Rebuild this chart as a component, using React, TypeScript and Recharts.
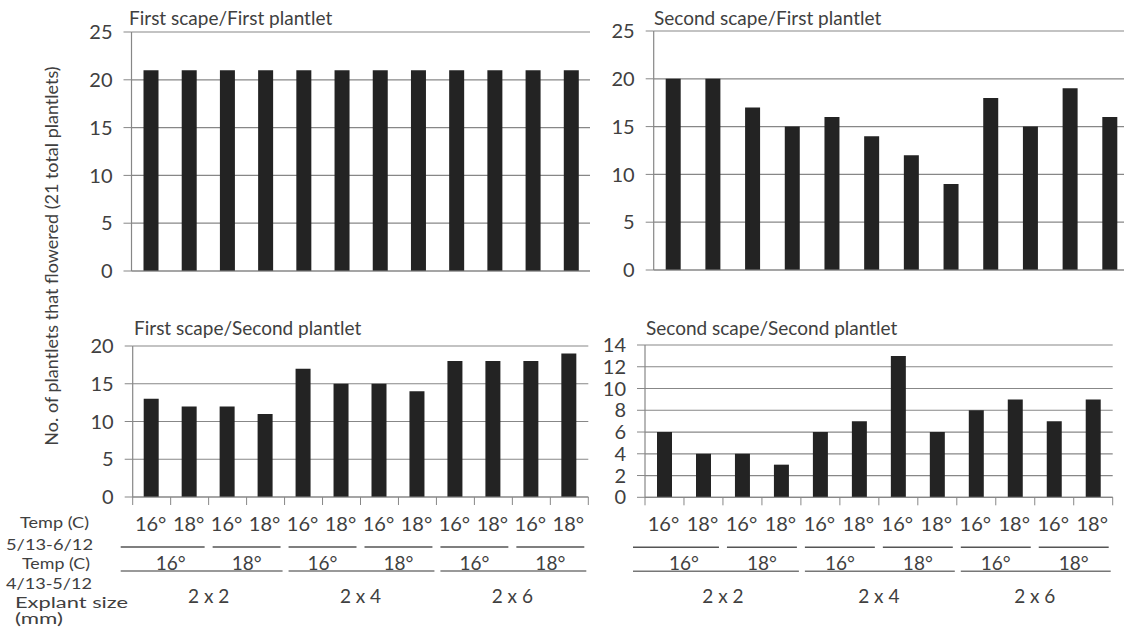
import React from 'react';
import { BarChart, Bar, XAxis, YAxis, CartesianGrid } from 'recharts';

// ---- data ----
const lateTemps = ['16°', '18°', '16°', '18°', '16°', '18°', '16°', '18°', '16°', '18°', '16°', '18°'];
const earlyTemps = ['16°', '18°', '16°', '18°', '16°', '18°'];
const explantSizes = ['2 x 2', '2 x 4', '2 x 6'];

const firstScapeFirstPlantlet = [21, 21, 21, 21, 21, 21, 21, 21, 21, 21, 21, 21];
const secondScapeFirstPlantlet = [20, 20, 17, 15, 16, 14, 12, 9, 18, 15, 19, 16];
const firstScapeSecondPlantlet = [13, 12, 12, 11, 17, 15, 15, 14, 18, 18, 18, 19];
const secondScapeSecondPlantlet = [6, 4, 4, 3, 6, 7, 13, 6, 8, 9, 7, 9];

const ticks25 = [0, 5, 10, 15, 20, 25];
const ticks20 = [0, 5, 10, 15, 20];
const ticks14 = [0, 2, 4, 6, 8, 10, 12, 14];

const titles = [
  'First scape/First plantlet',
  'Second scape/First plantlet',
  'First scape/Second plantlet',
  'Second scape/Second plantlet',
];
const yLabel = 'No. of plantlets that flowered (21 total plantlets)';
const rowLabels = ['Temp (C)', '5/13-6/12', 'Temp (C)', '4/13-5/12', 'Explant size', '(mm)'];

// ---- styles ----
const FONT = 'Lato, "Open Sans", sans-serif';
const TEXT = '#404040';
const GRID = '#878787';
const BAR = '#232323';

const rows = (vals: number[]) => vals.map((v, i) => ({ key: String(i), v }));

function MultiLevelTick(props: any) {
  const { x, y, payload, index, band } = props;
  const half = payload && payload.offset ? payload.offset : band / 2;
  const i = index as number;
  const n = lateTemps.length;
  const els: any[] = [];
  els.push(<line key="t" x1={x - half} x2={x - half} y1={y} y2={y + 8} stroke={GRID} />);
  if (i === n - 1) els.push(<line key="t2" x1={x + half} x2={x + half} y1={y} y2={y + 8} stroke={GRID} />);
  els.push(
    <text key="l" x={x - 1} y={y + 26} textAnchor="middle" dominantBaseline="central" fontSize={20} fill={TEXT} fontFamily={FONT}>
      {lateTemps[i]}
    </text>
  );
  if (i % 2 === 0) {
    const startX = i === 0 ? x - half - 12 : x - half + 4;
    els.push(<line key="u" x1={startX} x2={x + 3 * half - 4} y1={y + 50} y2={y + 50} stroke="#555" strokeWidth={1.5} />);
    els.push(
      <text key="g" x={x + half} y={y + 65} textAnchor="middle" dominantBaseline="central" fontSize={19} fill={TEXT} fontFamily={FONT}>
        {earlyTemps[i / 2]}
      </text>
    );
  }
  if (i % 4 === 0) {
    const startX = i === 0 ? x - half - 12 : x - half + 4;
    els.push(<line key="w" x1={startX} x2={x + 7 * half - 2} y1={y + 74} y2={y + 74} stroke="#777" strokeWidth={1.5} />);
    els.push(
      <text key="e" x={x + 3 * half} y={y + 98} textAnchor="middle" dominantBaseline="central" fontSize={19} fill={TEXT} fontFamily={FONT}>
        {explantSizes[i / 4]}
      </text>
    );
  }
  return <g>{els}</g>;
}

type PanelProps = {
  left: number; top: number; width: number; height: number;
  plotLeft: number; plotRight: number; plotTop: number; plotBottom: number;
  values: number[]; ticks: number[]; bottomLabels: boolean;
};

function Panel(p: PanelProps) {
  const yAxisWidth = p.plotLeft;
  const xAxisHeight = p.height - p.plotBottom;
  const band = (p.plotRight - p.plotLeft) / p.values.length;
  const domainMax = p.ticks[p.ticks.length - 1];
  return (
    <div style={{ position: 'absolute', left: p.left, top: p.top }}>
      <BarChart
        width={p.width}
        height={p.height}
        data={rows(p.values)}
        margin={{ top: p.plotTop, right: p.width - p.plotRight, bottom: 0, left: 0 }}
        barCategoryGap={0}
      >
        <CartesianGrid horizontal vertical={false} stroke={GRID} strokeWidth={1.2} />
        <XAxis
          dataKey="key"
          height={xAxisHeight}
          interval={0}
          axisLine={{ stroke: GRID, strokeWidth: 1.2 }}
          tickLine={false}
          tickSize={0}
          tickMargin={0}
          tick={p.bottomLabels ? <MultiLevelTick band={band} /> : false}
        />
        <YAxis
          width={yAxisWidth}
          domain={[0, domainMax]}
          ticks={p.ticks}
          interval={0}
          axisLine={{ stroke: GRID, strokeWidth: 1.2 }}
          tickLine={{ stroke: GRID }}
          tickSize={8}
          tickMargin={11}
          tick={{ fontSize: 20, fill: TEXT, fontFamily: FONT }}
        />
        <Bar dataKey="v" fill={BAR} barSize={15} isAnimationActive={false} />
      </BarChart>
    </div>
  );
}

const rowLabelLayout = [
  { x: 20, y: 522, w: 69 },
  { x: 6, y: 544, w: 87 },
  { x: 22, y: 563, w: 68 },
  { x: 6, y: 583, w: 86 },
  { x: 15, y: 602, w: 113 },
  { x: 15, y: 618, w: 48 },
];

export default function App() {
  return (
    <div style={{ position: 'absolute', left: 0, top: 0, width: 1124, height: 627, overflow: 'hidden', background: '#fff' }}>
      <Panel left={0} top={0} width={600} height={290} plotLeft={131.5} plotRight={590} plotTop={32} plotBottom={271}
        values={firstScapeFirstPlantlet} ticks={ticks25} bottomLabels={false} />
      <Panel left={560} top={0} width={580} height={290} plotLeft={93.7} plotRight={570} plotTop={31} plotBottom={270}
        values={secondScapeFirstPlantlet} ticks={ticks25} bottomLabels={false} />
      <Panel left={0} top={300} width={600} height={327} plotLeft={132.7} plotRight={588.3} plotTop={46} plotBottom={197}
        values={firstScapeSecondPlantlet} ticks={ticks20} bottomLabels={true} />
      <Panel left={560} top={300} width={564} height={327} plotLeft={85} plotRight={552.7} plotTop={45} plotBottom={197.3}
        values={secondScapeSecondPlantlet} ticks={ticks14} bottomLabels={true} />
      <svg width={1124} height={627} style={{ position: 'absolute', left: 0, top: 0, pointerEvents: 'none' }}>
        <g fontFamily={FONT} fill={TEXT}>
          <text x={129} y={17} fontSize={19} dominantBaseline="central">{titles[0]}</text>
          <text x={654} y={17} fontSize={19} dominantBaseline="central">{titles[1]}</text>
          <text x={134} y={327} fontSize={19} dominantBaseline="central">{titles[2]}</text>
          <text x={646} y={327} fontSize={19} dominantBaseline="central">{titles[3]}</text>
          <text x={0} y={0} fontSize={18} textAnchor="middle" dominantBaseline="central" transform="translate(51,256) rotate(-90)">{yLabel}</text>
          {rowLabels.map((t, i) => (
            <text key={i} x={rowLabelLayout[i].x} y={rowLabelLayout[i].y} fontSize={15.5} dominantBaseline="central"
              textLength={rowLabelLayout[i].w} lengthAdjust="spacingAndGlyphs">{t}</text>
          ))}
        </g>
      </svg>
    </div>
  );
}
